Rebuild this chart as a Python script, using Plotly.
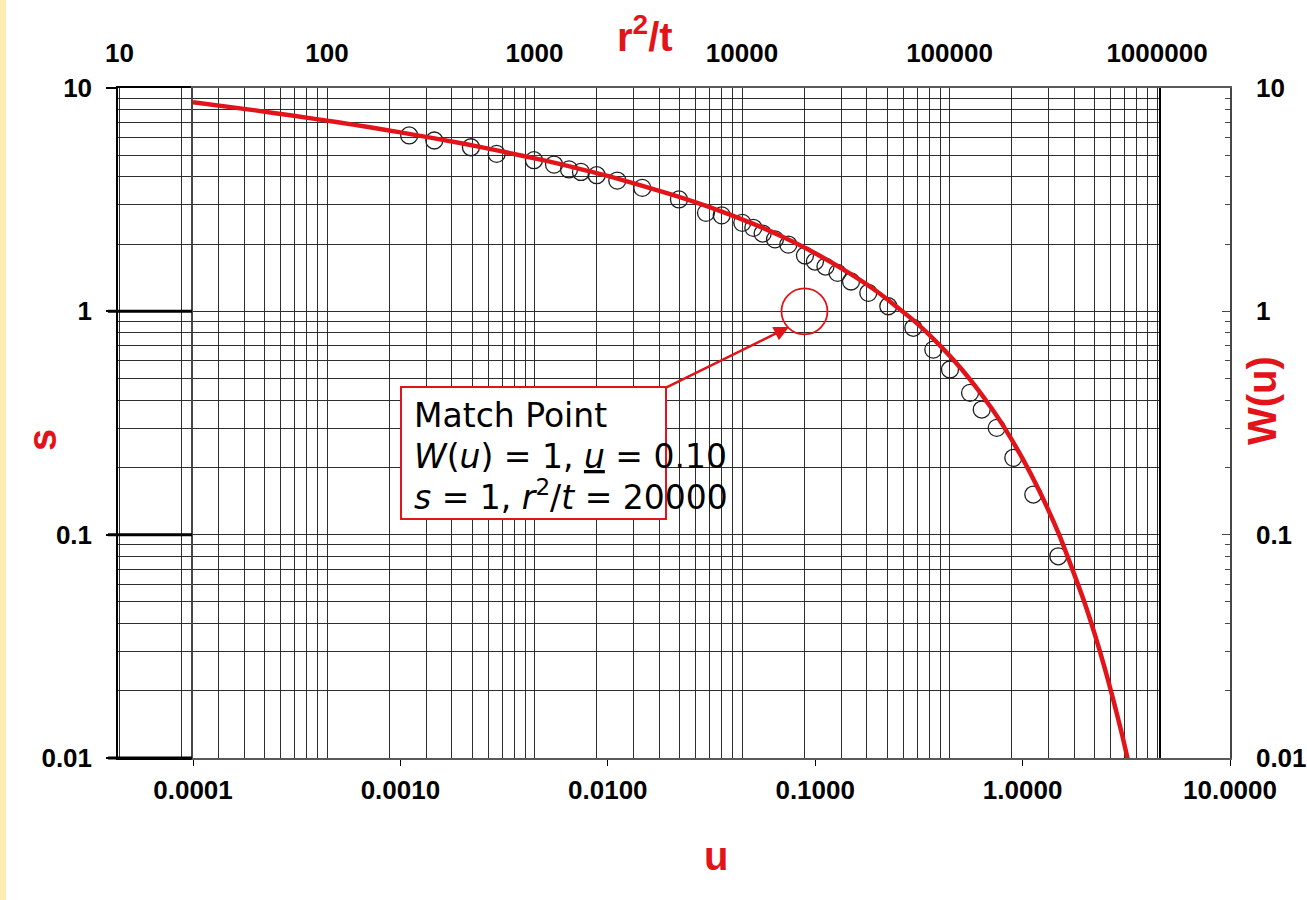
import math
import plotly.graph_objects as go

# ---------------- data ----------------
# observed drawdown: r^2/t  vs  s
r2t_obs = [249, 329, 494, 657, 994, 1242, 1467, 1675, 1994, 2506, 3307, 4970,
           6707, 7985, 10030, 11340, 12580, 14420, 16720, 20120, 22470, 25260,
           28860, 33530, 40620, 50720, 66930, 83560, 100560, 125600, 143000,
           168850, 203000, 253500, 334500]
s_obs = [6.13, 5.82, 5.43, 5.07, 4.75, 4.54, 4.32, 4.21, 4.07, 3.85, 3.57, 3.17,
         2.76, 2.69, 2.49, 2.365, 2.23, 2.10, 1.99, 1.778, 1.671, 1.587,
         1.487, 1.360, 1.210, 1.054, 0.844, 0.674, 0.549, 0.4315, 0.3633,
         0.3008, 0.2208, 0.1512, 0.0800]

# Theis type curve: u vs W(u)
u_curve = [0.0001, 0.0002, 0.0003, 0.0005, 0.0007, 0.001, 0.002, 0.003, 0.005,
           0.007, 0.01, 0.02, 0.03, 0.05, 0.07, 0.1, 0.15, 0.2, 0.3, 0.4, 0.5,
           0.6, 0.7, 0.8, 1.0, 1.2, 1.5, 2.0, 2.5, 3.0, 3.5]
W_curve = [8.63, 7.94, 7.53, 7.02, 6.69, 6.33, 5.64, 5.23, 4.73, 4.39, 4.04,
           3.35, 2.96, 2.47, 2.15, 1.82, 1.46, 1.22, 0.906, 0.702, 0.560, 0.454,
           0.374, 0.311, 0.219, 0.158, 0.100, 0.0489, 0.0249, 0.0130, 0.00697]

# match point
match_r2t = [20000]
match_s = [1]
match_lines = [
    "Match Point",
    "<i>W</i>(<i>u</i>) = 1, <span style='text-decoration:underline'><i>u</i></span> = 0.10",
    "<i>s</i> = 1, <i>r</i><sup>2</sup>/<i>t</i> = 20000",
]

# tick labels
top_ticks = [10, 100, 1000, 10000, 100000, 1000000]
top_labels = ["10", "100", "1000", "10000", "100000", "1000000"]
u_ticks = [0.0001, 0.001, 0.01, 0.1, 1, 10]
u_labels = ["0.0001", "0.0010", "0.0100", "0.1000", "1.0000", "10.0000"]
y_ticks = [0.01, 0.1, 1, 10]
y_labels = ["0.01", "0.1", "1", "10"]

# ---------------- layout geometry ----------------
W, H = 1307, 900
L, R, T, B = 118, 1230, 88, 758
PW, PH = R - L, B - T
RED = "rgb(226,20,26)"
DARK = "rgb(45,45,45)"


def px(x):
    return (x - L) / PW


def py(y):
    return 1 - (y - T) / PH


minor_x1 = [k * 10 ** e for e in range(1, 6) for k in range(2, 10)]
minor_y = [k * 10 ** e for e in range(-2, 1) for k in range(2, 10)]

tickfont = dict(family="Liberation Sans", size=26, color="black", weight="bold")

fig = go.Figure()

fig.add_trace(go.Scatter(
    x=r2t_obs, y=s_obs, mode="markers", xaxis="x", yaxis="y",
    marker=dict(symbol="circle-open", size=17, color="rgb(30,30,30)",
                line=dict(width=1.3)),
    hoverinfo="x+y", showlegend=False))

fig.add_trace(go.Scatter(
    x=match_r2t, y=match_s, mode="markers", xaxis="x", yaxis="y",
    marker=dict(symbol="circle-open", size=46, color=RED,
                line=dict(width=1.8)),
    showlegend=False))

fig.add_trace(go.Scatter(
    x=u_curve, y=W_curve, mode="lines", xaxis="x2", yaxis="y2",
    line=dict(color=RED, width=4.5, shape="spline", smoothing=0.5),
    showlegend=False))

x1_end = 1159
fig.update_layout(
    width=W, height=H,
    margin=dict(l=L, r=W - R, t=T, b=H - B, pad=0, autoexpand=False),
    paper_bgcolor="white", plot_bgcolor="rgba(0,0,0,0)",
    showlegend=False,
    xaxis=dict(
        type="log", domain=[0, px(x1_end)], anchor="y", side="top",
        automargin=False,
        range=[1 - 1.5 / 207.5, 1 + (x1_end - 119.5) / 207.5],
        tickmode="array", tickvals=top_ticks, ticktext=top_labels,
        tickfont=tickfont, ticks="", ticklabelstandoff=14,
        showgrid=True, gridcolor=DARK, gridwidth=1,
        minor=dict(tickmode="array", tickvals=minor_x1, showgrid=True,
                   gridcolor=DARK, gridwidth=1, ticks=""),
        showline=True, linecolor="black", linewidth=1.5, mirror=True,
        zeroline=False),
    yaxis=dict(
        type="log", domain=[0, 1], anchor="x", side="left", range=[-2, 1],
        automargin=False,
        tickmode="array", tickvals=y_ticks, ticktext=y_labels,
        tickfont=tickfont, ticks="outside", ticklen=10, tickwidth=1.5,
        tickcolor="black", ticklabelstandoff=9,
        showgrid=True, gridcolor=DARK, gridwidth=1,
        minor=dict(tickmode="array", tickvals=minor_y, showgrid=True,
                   gridcolor=DARK, gridwidth=1, ticks=""),
        showline=True, linecolor="black", linewidth=1.5, mirror=True,
        zeroline=False),
    xaxis2=dict(
        type="log", domain=[px(193), 1], anchor="y2", side="bottom",
        automargin=False,
        range=[-4, 1],
        tickmode="array", tickvals=u_ticks, ticktext=u_labels,
        tickfont=tickfont, ticks="outside", ticklen=6, tickcolor="black",
        ticklabelstandoff=2, showgrid=False,
        showline=True, linecolor="rgb(90,90,90)", linewidth=1.5, mirror=True,
        zeroline=False),
    yaxis2=dict(
        type="log", domain=[0, 1], anchor="x2", side="right", range=[-2, 1],
        automargin=False,
        tickmode="array", tickvals=y_ticks, ticktext=y_labels,
        tickfont=tickfont, ticks="inside", ticklen=8, tickcolor="rgb(70,70,70)",
        ticklabelstandoff=19, showgrid=False,
        minor=dict(tickmode="array", tickvals=minor_y, showgrid=False,
                   ticks="inside", ticklen=5, tickcolor="rgb(70,70,70)"),
        showline=True, linecolor="rgb(70,70,70)", linewidth=1.5, mirror=True,
        zeroline=False),
)

shapes = []
# yellow strip at the left edge
shapes.append(dict(type="rect", xref="paper", yref="paper",
                   x0=px(0), x1=px(6), y0=py(H), y1=py(0),
                   fillcolor="rgb(253,236,178)", line=dict(width=0),
                   layer="below"))
# heavy tick segments at s = 1, 0.1, 0.01
for v in [1, 0.1, 0.01]:
    f = (math.log10(v) + 2) / 3
    shapes.append(dict(type="line", xref="x domain", yref="y domain",
                       x0=-10 / (x1_end - L), x1=(192 - L) / (x1_end - L),
                       y0=f, y1=f, line=dict(color="black", width=3)))
# match point box
shapes.append(dict(type="rect", xref="paper", yref="paper",
                   x0=px(401), x1=px(666), y0=py(519), y1=py(387),
                   fillcolor="white", line=dict(color=RED, width=2),
                   layer="above"))
fig.update_layout(shapes=shapes)

ann = []
title_font = dict(family="Liberation Sans", size=40, color=RED)
ann.append(dict(text="<b>r<sup>2</sup>/t</b>", x=px(645), y=py(34),
                xref="paper", yref="paper", showarrow=False,
                font=title_font, xanchor="center", yanchor="middle"))
ann.append(dict(text="<b>u</b>", x=px(716), y=py(856),
                xref="paper", yref="paper", showarrow=False,
                font=title_font, xanchor="center", yanchor="middle"))
ann.append(dict(text="<b>s</b>", x=px(42), y=py(440), textangle=-90,
                xref="paper", yref="paper", showarrow=False,
                font=title_font, xanchor="center", yanchor="middle"))
ann.append(dict(text="<b>W(u)</b>", x=px(1262), y=py(401), textangle=-90,
                xref="paper", yref="paper", showarrow=False,
                font=title_font, xanchor="center", yanchor="middle"))
for line_text, ly in zip(match_lines, [416, 456, 495]):
    ann.append(dict(
        text=line_text, x=px(412), y=py(ly), xref="paper", yref="paper",
        showarrow=False, align="left", xanchor="left", yanchor="middle",
        font=dict(family="DejaVu Sans", size=33, color="black")))
ann.append(dict(text="", x=px(789), y=py(327), xref="paper", yref="paper",
                showarrow=True, ax=-124, ay=61, arrowhead=2, arrowsize=1.2,
                arrowwidth=2.5, arrowcolor=RED))
fig.update_layout(annotations=ann)

fig.write_html(
    "out.html",
    config={"displayModeBar": False},
    post_script=(
        "document.documentElement.style.margin='0px';"
        "document.documentElement.style.overflow='hidden';"
        "document.body.style.margin='0px';"
        "document.body.style.overflow='hidden';"
    ),
)
